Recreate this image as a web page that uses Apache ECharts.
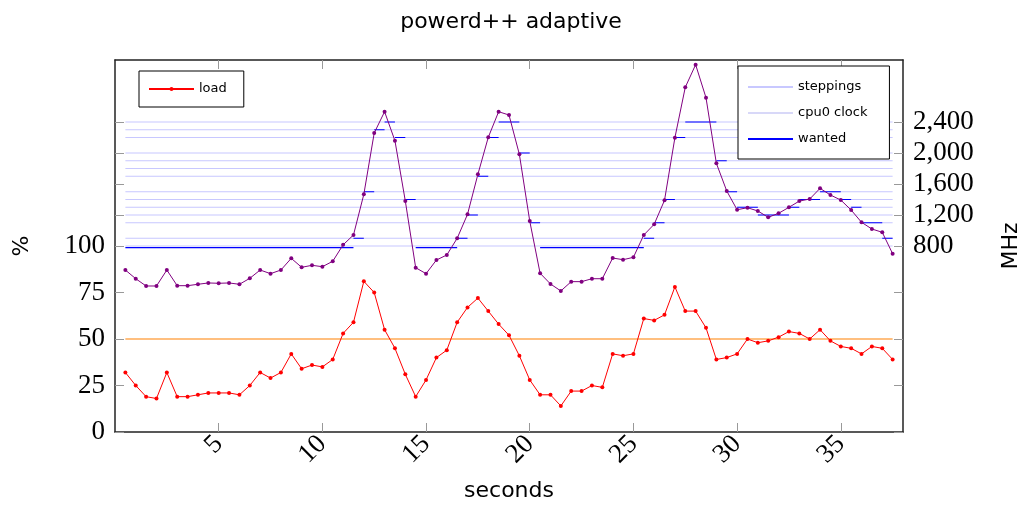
<!DOCTYPE html>
<html>
<head>
<meta charset="utf-8">
<script src="https://cdn.jsdelivr.net/npm/echarts@6/dist/echarts.min.js"></script>
<style>
  html, body { margin: 0; padding: 0; background: #fff; }
  #chart { width: 1022px; height: 505px; }
</style>
</head>
<body>
<div id="chart"></div>
<script>
// sample times (s)
const seconds = [
  0.5, 1, 1.5, 2, 2.5, 3, 3.5, 4, 4.5, 5, 5.5, 6, 6.5, 7, 7.5, 8, 8.5, 9, 9.5, 10,
  10.5, 11, 11.5, 12, 12.5, 13, 13.5, 14, 14.5, 15, 15.5, 16, 16.5, 17, 17.5, 18, 18.5, 19, 19.5, 20,
  20.5, 21, 21.5, 22, 22.5, 23, 23.5, 24, 24.5, 25, 25.5, 26, 26.5, 27, 27.5, 28, 28.5, 29, 29.5, 30,
  30.5, 31, 31.5, 32, 32.5, 33, 33.5, 34, 34.5, 35, 35.5, 36, 36.5, 37, 37.5
];
// load in %
const load = [
  32, 25, 19, 18, 32, 19, 19, 20, 21, 21, 21, 20, 25, 32, 29, 32, 42, 34, 36, 35,
  39, 53, 59, 81, 75, 55, 45, 31, 19, 28, 40, 44, 59, 67, 72, 65, 58, 52, 41, 28,
  20, 20, 14, 22, 22, 25, 24, 42, 41, 42, 61, 60, 63, 78, 65, 65, 56, 39, 40, 42,
  50, 48, 49, 51, 54, 53, 50, 55, 49, 46, 45, 42, 46, 45, 39
];
// cpu0 clock in MHz
const clock = [
  490, 378, 284, 284, 490, 288, 288, 306, 323, 319, 323, 306, 383, 490, 443, 490, 641, 525, 551, 533,
  603, 815, 942, 1467, 2258, 2533, 2158, 1380, 520, 443, 619, 684, 899, 1209, 1725, 2202, 2533, 2490, 1983, 1122,
  448, 310, 220, 340, 340, 378, 378, 645, 623, 654, 942, 1080, 1390, 2197, 2847, 3140, 2713, 1867, 1510, 1268,
  1294, 1252, 1170, 1222, 1299, 1380, 1406, 1544, 1458, 1393, 1264, 1106, 1019, 977, 700
];
// wanted frequency in MHz (held until the next sample)
const wanted = [
  780, 780, 780, 780, 780, 780, 780, 780, 780, 780, 780, 780, 780, 780, 780, 780, 780, 780, 780, 780,
  780, 780, 900, 1500, 2300, 2400, 2200, 1400, 780, 780, 780, 780, 900, 1200, 1700, 2200, 2400, 2400, 2000, 1100,
  780, 780, 780, 780, 780, 780, 780, 780, 780, 780, 900, 1100, 1400, 2200, 2400, 2400, 2400, 1900, 1500, 1300,
  1300, 1200, 1200, 1200, 1300, 1400, 1400, 1500, 1500, 1400, 1300, 1100, 1100, 900, 800
];
// available clock steppings in MHz
const steppings = [2400, 2300, 2200, 2000, 1900, 1800, 1700, 1500, 1400, 1300, 1200, 1100, 900, 800];
const loadTarget = 50;

const pctTicks = [0, 25, 50, 75, 100];
const mhzTicks = [800, 1200, 1600, 2000, 2400];
const secTicks = [5, 10, 15, 20, 25, 30, 35];

const first = seconds[0];
const last = seconds[seconds.length - 1];

let steppingData = [];
steppings.forEach(function (s) {
  steppingData.push([first, s], [last, s], [last, '-']);
});

let wantedData = [];
for (let i = 0; i < seconds.length - 1; i++) {
  wantedData.push([seconds[i], wanted[i]], [seconds[i + 1], wanted[i]], [seconds[i + 1], '-']);
}

const serif = "'Liberation Serif', serif";
const sans = "'DejaVu Sans', sans-serif";
const tickStyle = { color: '#999', width: 1 };
const frame = { show: true, onZero: false, lineStyle: { color: '#222', width: 1.5 } };

const chart = echarts.init(document.getElementById('chart'));
chart.setOption({
  animation: false,
  title: {
    text: 'powerd++ adaptive',
    left: 'center',
    top: 6,
    textStyle: { fontFamily: sans, fontSize: 22, fontWeight: 'normal', color: '#000' }
  },
  legend: [
    {
      data: ['load'],
      orient: 'vertical',
      left: 139,
      top: 71,
      itemWidth: 45,
      itemHeight: 5,
      padding: [11, 17, 11, 9],
      borderColor: '#000',
      borderWidth: 1,
      backgroundColor: '#fff',
      textStyle: { fontFamily: sans, fontSize: 13, color: '#000', lineHeight: 14 }
    },
    {
      data: ['steppings', 'cpu0 clock', 'wanted'],
      orient: 'vertical',
      align: 'left',
      left: 738,
      top: 66,
      itemWidth: 45,
      itemHeight: 1,
      itemGap: 12,
      padding: [14, 22, 13, 9],
      borderColor: '#000',
      borderWidth: 1,
      backgroundColor: '#fff',
      textStyle: { fontFamily: sans, fontSize: 13, color: '#000', lineHeight: 14 }
    }
  ],
  grid: { left: 115, right: 119, top: 60, bottom: 73, outerBoundsMode: 'none' },
  xAxis: [
    {
      type: 'value', position: 'bottom', min: 0, max: 38,
      name: 'seconds', nameLocation: 'middle', nameGap: 48,
      nameTextStyle: { fontFamily: sans, fontSize: 22, color: '#000' },
      axisLine: frame,
      axisTick: { inside: true, length: 9, lineStyle: tickStyle, customValues: secTicks },
      axisLabel: { rotate: 45, margin: 8, fontFamily: serif, fontSize: 27, color: '#000', customValues: secTicks },
      splitLine: { show: false }
    },
    {
      type: 'value', position: 'top', min: 0, max: 38,
      axisLine: frame,
      axisTick: { inside: true, length: 9, lineStyle: tickStyle, customValues: secTicks },
      axisLabel: { show: false },
      splitLine: { show: false }
    }
  ],
  yAxis: [
    {
      type: 'value', position: 'left', min: 0, max: 200,
      name: '%', nameLocation: 'middle', nameGap: 82, nameRotate: 90,
      nameTextStyle: { fontFamily: sans, fontSize: 22, color: '#000' },
      axisLine: frame,
      axisTick: { inside: true, length: 9, lineStyle: tickStyle, customValues: pctTicks },
      axisLabel: { margin: 10, fontFamily: serif, fontSize: 27, color: '#000', customValues: pctTicks },
      splitLine: { show: false }
    },
    {
      type: 'value', position: 'right', min: -1600, max: 3200,
      name: 'MHz', nameLocation: 'middle', nameGap: 97, nameRotate: 90,
      nameTextStyle: { fontFamily: sans, fontSize: 22, color: '#000' },
      axisLine: frame,
      axisTick: { inside: true, length: 9, lineStyle: tickStyle, customValues: mhzTicks },
      axisLabel: {
        margin: 10, fontFamily: serif, fontSize: 27, color: '#000', customValues: mhzTicks,
        formatter: function (v) { return v.toLocaleString('en-US'); }
      },
      splitLine: { show: false }
    },
    {
      // mirrored % ticks on the right side
      type: 'value', position: 'right', min: 0, max: 200,
      axisLine: { show: false, onZero: false },
      axisTick: { inside: true, length: 9, lineStyle: tickStyle, customValues: pctTicks },
      axisLabel: { show: false },
      splitLine: { show: false }
    },
    {
      // mirrored MHz ticks on the left side
      type: 'value', position: 'left', min: -1600, max: 3200,
      axisLine: { show: false, onZero: false },
      axisTick: { inside: true, length: 9, lineStyle: tickStyle, customValues: mhzTicks },
      axisLabel: { show: false },
      splitLine: { show: false }
    }
  ],
  series: [
    {
      name: 'steppings', type: 'line', yAxisIndex: 1,
      data: steppingData, symbol: 'none', connectNulls: false,
      lineStyle: { color: '#c8c8ff', width: 1.2 }, itemStyle: { color: '#c8c8ff' }
    },
    {
      name: 'cpu0 clock', type: 'line', yAxisIndex: 1,
      data: [], symbol: 'none',
      lineStyle: { color: '#d8d8f8', width: 1.2 }, itemStyle: { color: '#d8d8f8' }
    },
    {
      name: 'wanted', type: 'line', yAxisIndex: 1,
      data: wantedData, symbol: 'none', connectNulls: false,
      lineStyle: { color: '#0000ff', width: 1.2 }, itemStyle: { color: '#0000ff' }
    },
    {
      name: 'target', type: 'line', yAxisIndex: 0,
      data: [[first, loadTarget], [last, loadTarget]], symbol: 'none',
      lineStyle: { color: '#ff8000', width: 1.2 }, itemStyle: { color: '#ff8000' }
    },
    {
      name: 'clock', type: 'line', yAxisIndex: 1,
      data: seconds.map(function (s, i) { return [s, clock[i]]; }),
      symbol: 'circle', symbolSize: 4,
      lineStyle: { color: '#800080', width: 1 }, itemStyle: { color: '#800080' }
    },
    {
      name: 'load', type: 'line', yAxisIndex: 0,
      data: seconds.map(function (s, i) { return [s, load[i]]; }),
      symbol: 'circle', symbolSize: 4,
      lineStyle: { color: '#ff0000', width: 1 }, itemStyle: { color: '#ff0000' }
    }
  ]
});
</script>
</body>
</html>
